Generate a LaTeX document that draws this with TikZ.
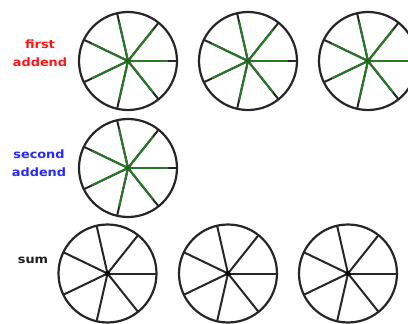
\documentclass[tikz,border=0pt]{standalone}
\usepackage{fontspec}
\setmainfont{DejaVu Sans}
\definecolor{spokegreen}{RGB}{40,120,40}
\definecolor{lblred}{RGB}{255,20,20}
\definecolor{lblblue}{RGB}{40,40,255}
\definecolor{lblblack}{RGB}{30,30,30}
\tikzset{
  rim/.style={draw=black!85, line width=2.2pt},
  spoke/.style={draw=black!85, line width=2pt},
  gspoke/.style={draw=spokegreen, line width=2pt},
  lbl/.style={font=\fontsize{11.5}{17.8}\selectfont\bfseries, align=center, inner sep=0pt},
}
\newcommand{\wheel}[3]{% name, x, y
  \coordinate (#1) at (#2,#3);
  \draw[rim] (#1) circle (49);
  \foreach \k in {0,...,6}{
    \draw[spoke] (#1) -- ++({\k*360/7}:49);
  }
}
\newcommand{\gwheel}[3]{%
  \wheel{#1}{#2}{#3}
  \foreach \k in {0,...,6}{
    \draw[gspoke] (#1) -- ++({\k*360/7}:40);
  }
  \fill[spokegreen!85!black] (#1) circle (2.7);
}
\newcommand{\bwheel}[3]{%
  \wheel{#1}{#2}{#3}
  \fill[black] (#1) circle (2.7);
}
\begin{document}
\begin{tikzpicture}[x=1pt,y=-1pt]
\useasboundingbox (0,0) rectangle (408,324);
\gwheel{fa1}{128}{61}
\gwheel{fa2}{248}{61}
\gwheel{fa3}{368}{61}
\gwheel{sa1}{128}{168}
\bwheel{s1}{107.5}{273.5}
\bwheel{s2}{228}{273.5}
\bwheel{s3}{348}{273.5}
\node[lbl, text=lblred, anchor=base] (lf) at (40,66.5) {\scalebox{1.12}[1]{first}\\\scalebox{1.12}[1]{addend}};
\node[lbl, text=lblblue, anchor=base] (ls) at (39,176.5) {\scalebox{1.12}[1]{second}\\\scalebox{1.12}[1]{addend}};
\node[lbl, text=lblblack, anchor=base] (lsum) at (33,263.5) {\scalebox{1.12}[1]{sum}};
\end{tikzpicture}
\end{document}
